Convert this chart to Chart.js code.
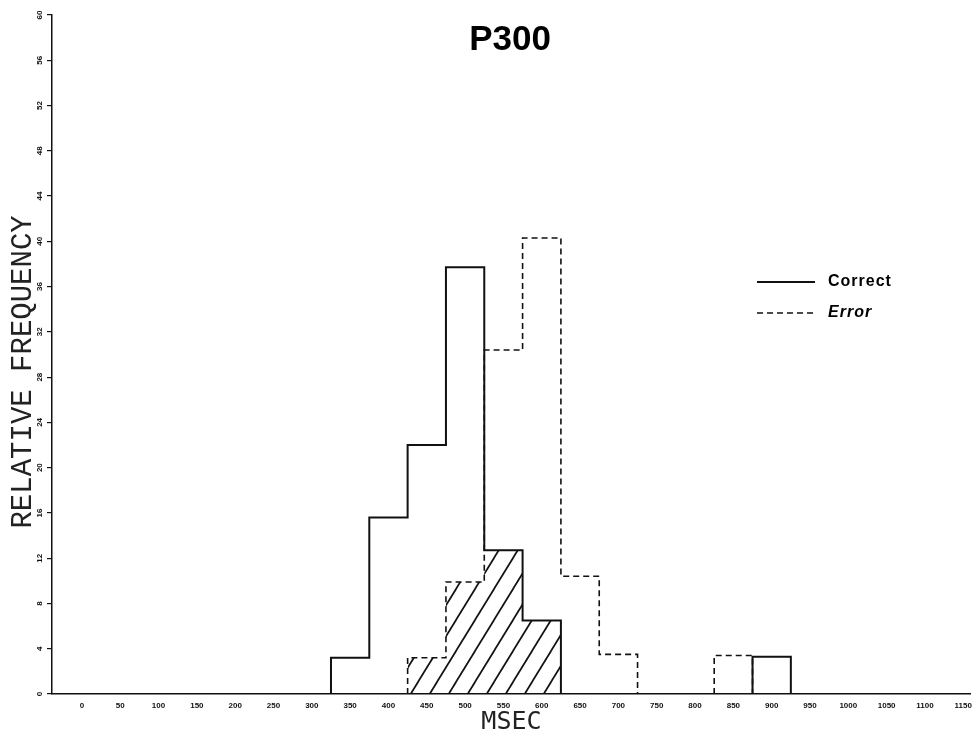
<!DOCTYPE html>
<html>
<head>
<meta charset="utf-8">
<title>P300</title>
<script src="https://cdn.jsdelivr.net/npm/chart.js@4.4.1/dist/chart.umd.min.js"></script>
<style>
    html, body { margin: 0; padding: 0; background: #fff; }
    #wrap { width: 979px; height: 734px; position: relative; }
</style>
</head>
<body>
<div id="wrap"><canvas id="p300Chart"></canvas></div>
<script>
// histogram bins (left edge, msec), 50 msec wide
const binStarts = [325, 375, 425, 475, 525, 575, 625, 675, 725, 775, 825, 875];
const binWidth = 50;
// relative frequency (%) per bin
const correctValues = [3.2, 15.6, 22.0, 37.7, 12.7, 6.5, 0, 0, 0, 0, 0, 3.3];
const errorValues = [0, 0, 3.2, 9.9, 30.4, 40.3, 10.4, 3.5, 0, 0, 3.4, 0];
// axis ticks
const xTickValues = [0, 50, 100, 150, 200, 250, 300, 350, 400, 450, 500, 550, 600,
    650, 700, 750, 800, 850, 900, 950, 1000, 1050, 1100, 1150];
const yTickValues = [0, 4, 8, 12, 16, 20, 24, 28, 32, 36, 40, 44, 48, 52, 56, 60];
const chartTitle = 'P300';

// shaded area = where both histograms overlap
const overlapValues = correctValues.map((v, i) => Math.min(v, errorValues[i]));

// turn bin heights into a stair outline, breaking the line where a run of bins ends
function outline(values) {
    const pts = [];
    let open = false;
    values.forEach((v, i) => {
        const left = binStarts[i];
        if (v > 0) {
            if (!open) { pts.push({ x: left, y: 0 }); open = true; }
            pts.push({ x: left, y: v }, { x: left + binWidth, y: v });
        } else if (open) {
            pts.push({ x: left, y: 0 }, { x: left + binWidth / 2, y: null });
            open = false;
        }
    });
    if (open) {
        pts.push({ x: binStarts[values.length - 1] + binWidth, y: 0 });
    }
    return pts;
}

function hatchPattern() {
    const c = document.createElement('canvas');
    const w = 19, h = 31;
    c.width = w; c.height = h;
    const g = c.getContext('2d');
    g.strokeStyle = '#111';
    g.lineWidth = 1.7;
    [-w, 0, w].forEach(dx => {
        g.beginPath();
        g.moveTo(dx - 3, h + 3 * h / w);
        g.lineTo(dx + w + 3, -3 * h / w);
        g.stroke();
    });
    return g.createPattern(c, 'repeat');
}

// title + legend drawn inside the plot like the original
const annotations = {
    id: 'annotations',
    afterDraw(chart) {
        const ctx = chart.ctx;
        ctx.save();
        ctx.fillStyle = '#000';
        ctx.textBaseline = 'middle';
        ctx.textAlign = 'center';
        ctx.font = 'bold 35px "Liberation Sans", Arial, sans-serif';
        ctx.fillText(chartTitle, 510, 40);

        let y = 282;
        chart.data.datasets.filter(ds => ds.inLegend).forEach(ds => {
            ctx.strokeStyle = ds.borderColor;
            ctx.lineWidth = ds.borderWidth;
            ctx.setLineDash(ds.borderDash || []);
            ctx.beginPath();
            ctx.moveTo(757, y);
            ctx.lineTo(815, y);
            ctx.stroke();
            ctx.setLineDash([]);
            ctx.textAlign = 'left';
            ctx.font = ds.legendFont;
            if ('letterSpacing' in ctx) ctx.letterSpacing = '1px';
            ctx.fillText(ds.label, 828, y);
            y += 31;
        });
        ctx.restore();
    }
};

const tickFont = { family: '"Liberation Sans", Arial, sans-serif', size: 8, weight: 'bold' };

const ctxP300 = document.getElementById('p300Chart').getContext('2d');
new Chart(ctxP300, {
    type: 'line',
    data: {
        datasets: [{
            label: 'Correct',
            data: outline(correctValues),
            borderColor: '#111',
            borderWidth: 2,
            inLegend: true,
            legendFont: 'bold 16px "Liberation Sans", Arial, sans-serif',
            order: 1
        }, {
            label: 'Error',
            data: outline(errorValues),
            borderColor: '#111',
            borderWidth: 1.6,
            borderDash: [6, 4],
            inLegend: true,
            legendFont: 'italic bold 16px "Liberation Sans", Arial, sans-serif',
            order: 2
        }, {
            label: 'Overlap',
            data: outline(overlapValues),
            borderWidth: 0,
            backgroundColor: hatchPattern(),
            fill: 'origin',
            order: 3
        }]
    },
    options: {
        responsive: true,
        maintainAspectRatio: false,
        animation: false,
        spanGaps: false,
        layout: { padding: { top: 15, right: 4 } },
        elements: {
            point: { radius: 0, hoverRadius: 0 },
            line: { tension: 0, fill: false }
        },
        scales: {
            x: {
                type: 'linear',
                min: -39,
                max: 1160,
                afterBuildTicks: (axis) => { axis.ticks = xTickValues.map(v => ({ value: v })); },
                afterFit: (scale) => { scale.height = 40; },
                grid: { display: false, drawTicks: false, tickLength: 0 },
                border: { color: '#111', width: 1.5 },
                ticks: {
                    font: tickFont,
                    color: '#111',
                    padding: 7,
                    maxRotation: 0,
                    autoSkip: false,
                    callback: (v) => String(v)
                },
                title: {
                    display: true,
                    text: 'MSEC',
                    color: '#222',
                    font: { family: '"DejaVu Sans Mono", "Liberation Mono", monospace', size: 25 },
                    padding: { top: 0, bottom: -3 }
                }
            },
            y: {
                min: 0,
                max: 60,
                afterBuildTicks: (axis) => { axis.ticks = yTickValues.map(v => ({ value: v })); },
                afterFit: (scale) => { scale.width = 52; },
                grid: { drawOnChartArea: false, tickLength: 5, color: '#111', lineWidth: 1.2 },
                border: { color: '#111', width: 1.5 },
                ticks: {
                    font: tickFont,
                    color: '#111',
                    padding: 3,
                    minRotation: 90,
                    maxRotation: 90,
                    crossAlign: 'center',
                    autoSkip: false
                },
                title: {
                    display: true,
                    // trailing spaces nudge the label down to where the original sits
                    text: 'RELATIVE FREQUENCY  ',
                    color: '#222',
                    font: { family: '"Liberation Mono", "DejaVu Sans Mono", monospace', size: 29 },
                    padding: { top: 6, bottom: 0 }
                }
            }
        },
        plugins: {
            legend: { display: false },
            tooltip: { enabled: false }
        }
    },
    plugins: [annotations]
});
</script>
</body>
</html>
